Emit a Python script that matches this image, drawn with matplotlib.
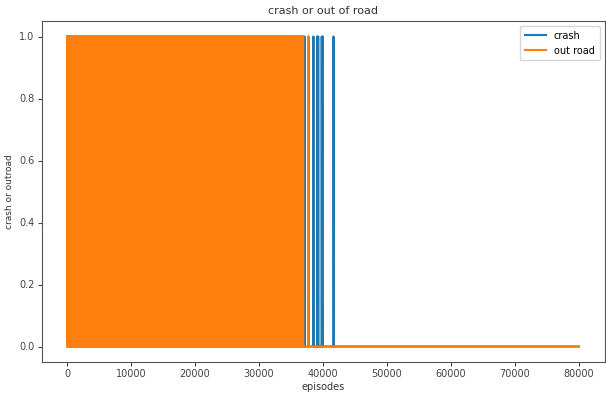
import numpy as np
import matplotlib
matplotlib.use("Agg")
from matplotlib import pyplot as plt

n_episodes = 80001
# spans where an event happened (almost) every other episode
outroad_dense = [(0, 36900)]
crash_dense = [(0, 36900)]
# isolated events after the dense part
outroad_spikes = [37700]
crash_spikes = [37100, 37720, 38500, 39100, 39250, 39800, 39950, 41650]


def build_series(dense, spikes):
    y = np.zeros(n_episodes)
    for start, stop in dense:
        y[start:stop:2] = 1
    for ep in spikes:
        y[ep] = 1
    return y


episodes = np.arange(n_episodes)
crash = build_series(crash_dense, crash_spikes)
outroad = build_series(outroad_dense, outroad_spikes)

plt.rcParams['font.family'] = ['DejaVu Sans']
fig = plt.figure(figsize=(6.06, 3.94), dpi=100)
ax = fig.add_axes([41.5 / 606, 32 / 394, 563 / 606, 341 / 394])

ax.plot(episodes, crash, label="crash", color="tab:blue")
ax.plot(episodes, outroad, label="out road", color="tab:orange")

ax.set_title("crash or out of road", fontsize=8, color="#333333", pad=5)
ax.set_xlabel("episodes", fontsize=7, color="#333333", labelpad=2)
ax.set_ylabel("crash or outroad", fontsize=6.5, color="#333333", labelpad=4)
ax.set_xticks(np.arange(0, 80001, 10000))
ax.set_yticks([0.0, 0.2, 0.4, 0.6, 0.8, 1.0])
ax.tick_params(labelsize=7, colors="#444444", length=3, pad=2)
for s in ax.spines.values():
    s.set_color("#555555")
ax.legend(loc="upper right", fontsize=7, handlelength=2.2, borderpad=0.5,
          labelspacing=0.5)

fig.savefig("out.png", dpi=100)
